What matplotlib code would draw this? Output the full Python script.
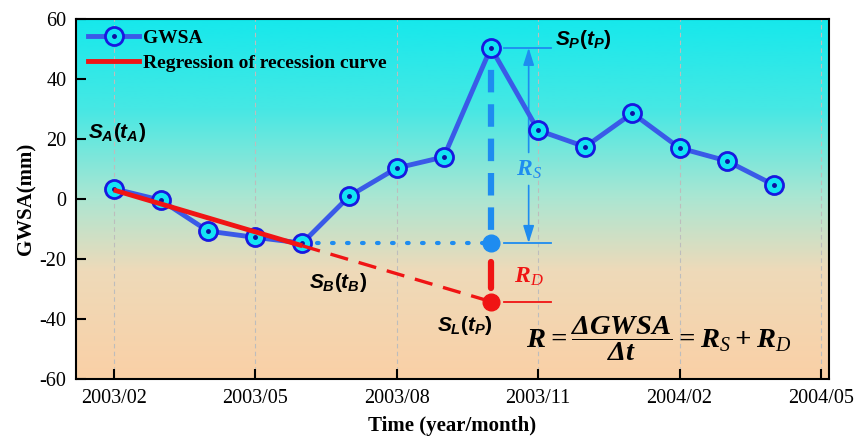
import numpy as np
import matplotlib
matplotlib.use("Agg")
import matplotlib.pyplot as plt
from matplotlib.colors import LinearSegmentedColormap
from matplotlib.lines import Line2D
from matplotlib.legend_handler import HandlerTuple

# monthly GWSA series, 2003/02 .. 2004/04 (index = months since 2003/02)
months = list(range(15))
gwsa = [3.4, -0.4, -10.7, -12.8, -14.7, 1.0, 10.3, 14.0, 50.4, 22.9, 17.4, 28.6, 17.0, 12.7, 4.7]

tick_months = [0, 3, 6, 9, 12, 15]
tick_labels = ["2003/02", "2003/05", "2003/08", "2003/11", "2004/02", "2004/05"]

# regression of recession curve: fitted part (A->B) and extrapolation (B->L)
reg_x = [0, 4, 8]
reg_y = [3.0, -15.6, -34.2]

i_b = 4   # S_B(t_B)
i_p = 8   # S_P(t_P)

plt.rcParams["font.family"] = "Liberation Serif"
plt.rcParams["axes.unicode_minus"] = False
plt.rcParams["mathtext.fontset"] = "custom"
plt.rcParams["mathtext.rm"] = "Liberation Sans:bold"
plt.rcParams["mathtext.it"] = "Liberation Sans:italic:bold"
plt.rcParams["mathtext.bf"] = "Liberation Sans:bold"
plt.rcParams["mathtext.sf"] = "Liberation Serif:italic:bold"
plt.rcParams["mathtext.tt"] = "Liberation Serif:italic"

blue_line = "#3a5ae8"
mk_edge = "#1818e0"
mk_face = "#14e4f4"
lblue = "#1e8cf0"
red = "#f01414"

fig = plt.figure(figsize=(8.55, 4.41), dpi=100)
ax = fig.add_axes([0.0889, 0.1406, 0.8807, 0.8164])

xmin, xmax = -0.8, 15.17
ymin, ymax = -60, 60

# background gradient: peach at the bottom to cyan at the top
bg = LinearSegmentedColormap.from_list("bg", [
    (0.0, (250/255, 208/255, 166/255)),
    (0.3, (238/255, 218/255, 185/255)),
    (0.5, (172/255, 230/255, 210/255)),
    (0.75, (70/255, 232/255, 228/255)),
    (1.0, (22/255, 232/255, 236/255)),
])
grad = np.linspace(0, 1, 256).reshape(-1, 1)
ax.imshow(grad, extent=[xmin, xmax, ymin, ymax], aspect="auto", cmap=bg,
          origin="lower", zorder=0)

ax.set_axisbelow(True)
ax.grid(axis="x", color="#bdbdbd", lw=0.8, ls=(0, (4, 3)))

s_b = gwsa[i_b]
s_p = gwsa[i_p]
s_l = reg_y[2]
t_p = months[i_p]

# GWSA series
ax.plot(months, gwsa, color=blue_line, lw=3.5, zorder=5)
ax.plot(months, gwsa, "o", ms=13, mfc=mk_face, mec=mk_edge, mew=2, zorder=6)
ax.plot(months, gwsa, "o", ms=2.5, color="#1010a0", zorder=7)

# regression line + extrapolation
ax.plot(reg_x[:2], reg_y[:2], color=red, lw=3.5, solid_capstyle="butt", zorder=8)
ax.plot(reg_x[1:], reg_y[1:], color=red, lw=2.4, ls=(0, (5.5, 3.3)), zorder=8)

# S_B level carried forward to t_P
ax.plot([months[i_b], t_p], [s_b, s_b], color=lblue, lw=3,
        ls=(0, (0.4, 3.2)), dash_capstyle="round", zorder=4)
ax.plot([t_p, t_p], [s_p, s_b], color=lblue, lw=4.5, ls=(2, (3.6, 1.9)), zorder=4)
gap = s_b - s_l
ax.plot([t_p, t_p], [s_b - 0.33 * gap, s_b - 0.76 * gap], color=red, lw=4.5,
        solid_capstyle="round", zorder=4)
ax.plot([t_p], [s_b], "o", ms=12, color=lblue, zorder=9)
ax.plot([t_p], [s_l], "o", ms=12, color=red, zorder=9)

# reference ticks and R_S / R_D arrows
xa, xb, xc = 8.27, 9.28, 8.8
ax.plot([xa, xb], [s_p, s_p], color=lblue, lw=1.3, zorder=4)
ax.plot([xa, xb], [s_b, s_b], color=lblue, lw=1.3, zorder=4)
ax.plot([xa, xb], [s_l, s_l], color=red, lw=1.3, zorder=4)
arr = dict(arrowstyle="-|>,head_length=0.7,head_width=0.22", color=lblue, lw=1.2,
           shrinkA=0, shrinkB=0, mutation_scale=15)
ax.annotate("", xy=(xc, s_p), xytext=(xc, 15.5), arrowprops=arr, zorder=4)
ax.annotate("", xy=(xc, s_b), xytext=(xc, 4.5), arrowprops=arr, zorder=4)
ax.text(xc, 9.8, r"$\mathsf{R}_\mathtt{S}$", color=lblue, fontsize=17, ha="center", va="center")
ax.text(xc, -25.7, r"$\mathsf{R}_\mathtt{D}$", color=red, fontsize=17, ha="center", va="center")

# point labels
ax.text(-0.55, 22, r"$S_A(t_A)$", fontsize=15, ha="left", va="center")
ax.text(4.76, -27.7, r"$S_B(t_B)$", fontsize=15, ha="center", va="center")
ax.text(7.45, -42.3, r"$S_L(t_P)$", fontsize=15, ha="center", va="center")
ax.text(9.35, 53, r"$S_P(t_P)$", fontsize=15, ha="left", va="center")

ax.text(11.55, -46.5,
        r"$\mathsf{R=\dfrac{\Delta GWSA}{\Delta t}=R_{\mathtt{S}}+R_{\mathtt{D}}}$",
        fontsize=20.5, ha="center", va="center")

ax.set_xlim(xmin, xmax)
ax.set_ylim(ymin, ymax)
ax.set_xticks(tick_months)
ax.set_xticklabels(tick_labels)
ax.set_yticks([-60, -40, -20, 0, 20, 40, 60])
ax.tick_params(direction="in", length=7, width=1.5, labelsize=14.5, pad=7)
for sp in ax.spines.values():
    sp.set_linewidth(1.5)

ax.set_xlabel("Time (year/month)", fontsize=15, fontweight="bold", labelpad=6)
ax.set_ylabel("GWSA(mm)", fontsize=15, fontweight="bold", labelpad=2)

h1 = (Line2D([], [], color=blue_line, lw=3.5, marker="o", ms=13, mfc=mk_face,
             mec=mk_edge, mew=2),
      Line2D([], [], ls="none", marker="o", ms=2.5, color="#1010a0"))
h2 = Line2D([], [], color=red, lw=3.5)
ax.legend([h1, h2], ["GWSA", "Regression of recession curve"],
          handler_map={tuple: HandlerTuple(ndivide=1, pad=0)},
          loc="upper left", bbox_to_anchor=(-0.007, 1.02), frameon=False,
          handlelength=2.6, handletextpad=0.2, labelspacing=0.4,
          prop={"family": "Liberation Serif", "weight": "bold", "size": 14})

fig.savefig("out.png", dpi=100)
